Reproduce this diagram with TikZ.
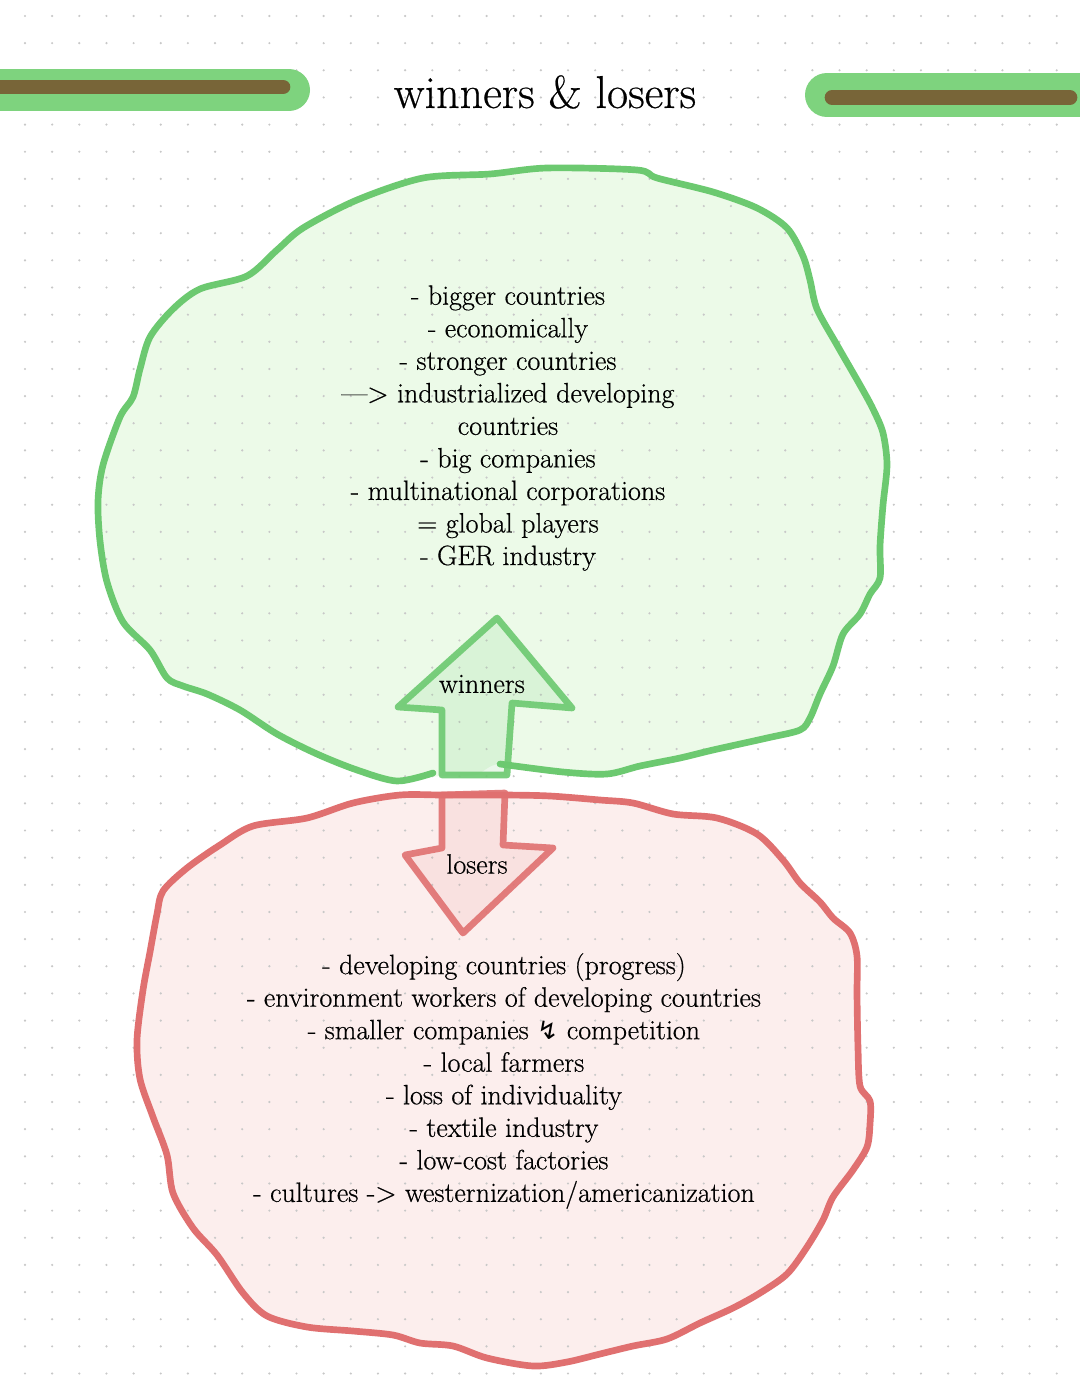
\documentclass[tikz,border=0pt]{standalone}
\usepackage{fontspec}
\setmainfont{Latin Modern Roman}[FakeBold=0.5]
\newfontfamily\symbfont{DejaVu Sans}
\definecolor{wingreen}{RGB}{108,201,112}
\definecolor{winfill}{RGB}{236,250,232}
\definecolor{losered}{RGB}{224,112,112}
\definecolor{losefill}{RGB}{252,238,237}
\definecolor{barbrown}{RGB}{120,101,56}
\definecolor{bargreen}{RGB}{126,211,126}
\definecolor{dotgray}{RGB}{200,200,200}

\begin{document}
\begin{tikzpicture}[x=0.75pt,y=-0.75pt,
	blobline/.style={line width=5pt, line join=round, line cap=round},
	listtext/.style={align=center, inner sep=0pt, text=black, font=\fontsize{21}{24.4}\selectfont}]
	\useasboundingbox[fill=white] (0,0) rectangle (1080,1394);

	%fills
	\fill[winfill] plot[smooth cycle] coordinates {(500,764) (563,772) (607,774) (640,766) (680,758) (713,750) (767,738) (800,730) (810,718) (820,694) (833,666) (843,634) (860,614) (870,594) (880,578) (880,546) (883,505) (887,465) (883,433) (873,409) (860,385) (837,345) (817,309) (810,280) (803,256) (787,228) (757,208) (713,192) (657,178) (637,170) (547,168) (490,174) (423,178) (357,200) (303,228) (277,250) (247,276) (200,289) (173,309) (150,337) (140,369) (133,397) (120,417) (103,465) (98,501) (100,541) (107,582) (123,622) (150,650) (167,678) (183,686) (207,694) (240,710) (277,734) (317,754) (357,770) (397,781) (440,776) (475,775)};
	\fill[losefill] plot[smooth cycle] coordinates {(505,795) (550,796) (600,800) (633,803) (673,814) (717,818) (757,834) (783,860) (800,883) (820,902) (833,918) (850,933) (857,956) (857,994) (858,1048) (860,1086) (870,1101) (870,1124) (867,1147) (853,1170) (833,1197) (823,1220) (807,1247) (787,1274) (760,1293) (733,1308) (700,1323) (667,1339) (633,1346) (600,1354) (567,1362) (533,1366) (487,1358) (453,1346) (420,1343) (393,1335) (353,1331) (307,1327) (267,1316) (243,1293) (217,1255) (193,1228) (173,1193) (167,1155) (153,1117) (140,1079) (137,1040) (143,990) (150,952) (157,914) (163,891) (187,868) (220,845) (253,826) (307,818) (353,803) (400,795) (443,795)};

	%dot grid
	\foreach \i in {0,...,39}
		\foreach \j in {0,...,50}
			\fill[dotgray] (25+27.15*\i, 16+27.15*\j) circle[radius=0.9pt];

	%bars
	\draw[bargreen, line width=31.5pt, line cap=round] (-40,90) -- (289,90);
	\draw[barbrown, line width=11pt, line cap=round] (-40,87) -- (283,87);
	\draw[bargreen, line width=33pt, line cap=round] (827,95) -- (1120,95);
	\draw[barbrown, line width=11pt, line cap=round] (832,97.5) -- (1070,97.5);

	\node[text=black] (title) at (545,92) {\fontsize{34.5}{36}\selectfont winners \& losers};

	%green blob and arrow
	\draw[blobline, wingreen] plot[smooth] coordinates {(500,764) (563,772) (607,774) (640,766) (680,758) (713,750) (767,738) (800,730) (810,718) (820,694) (833,666) (843,634) (860,614) (870,594) (880,578) (880,546) (883,505) (887,465) (883,433) (873,409) (860,385) (837,345) (817,309) (810,280) (803,256) (787,228) (757,208) (713,192) (657,178) (637,170) (547,168) (490,174) (423,178) (357,200) (303,228) (277,250) (247,276) (200,289) (173,309) (150,337) (140,369) (133,397) (120,417) (103,465) (98,501) (100,541) (107,582) (123,622) (150,650) (167,678) (183,686) (207,694) (240,710) (277,734) (317,754) (357,770) (397,781) (433,773)};
	\filldraw[blobline, draw=wingreen, fill=wingreen, fill opacity=0.14, draw opacity=0.9] (442,775) -- (442,710) -- (398,707) -- (497,618) -- (572,708) -- (512,703) -- (507,775) -- cycle;

	%red blob and arrow
	\draw[blobline, losered] plot[smooth cycle] coordinates {(505,795) (550,796) (600,800) (633,803) (673,814) (717,818) (757,834) (783,860) (800,883) (820,902) (833,918) (850,933) (857,956) (857,994) (858,1048) (860,1086) (870,1101) (870,1124) (867,1147) (853,1170) (833,1197) (823,1220) (807,1247) (787,1274) (760,1293) (733,1308) (700,1323) (667,1339) (633,1346) (600,1354) (567,1362) (533,1366) (487,1358) (453,1346) (420,1343) (393,1335) (353,1331) (307,1327) (267,1316) (243,1293) (217,1255) (193,1228) (173,1193) (167,1155) (153,1117) (140,1079) (137,1040) (143,990) (150,952) (157,914) (163,891) (187,868) (220,845) (253,826) (307,818) (353,803) (400,795) (443,795)};
	\filldraw[blobline, draw=losered, fill=losered, fill opacity=0.1, draw opacity=0.9] (442,795) -- (442,848) -- (405,855) -- (463,933) -- (553,848) -- (503,845) -- (505,793) -- cycle;

	%labels
	\node[listtext] (winners) at (482,684) {winners};
	\node[listtext] (losers) at (477,864) {losers};

	\node[listtext] (winlist) at (508,428) {- bigger countries\\- economically\\- stronger countries\\---> industrialized developing\\countries\\- big companies\\- multinational corporations\\= global players\\- GER industry};
	\node[listtext] (loselist) at (504,1081) {- developing countries (progress)\\- environment workers of developing countries\\- smaller companies {\symbfont\fontsize{19}{20}\selectfont ↯} competition\\- local farmers\\- loss of individuality\\- textile industry\\- low-cost factories\\- cultures -> westernization/americanization};
\end{tikzpicture}
\end{document}
